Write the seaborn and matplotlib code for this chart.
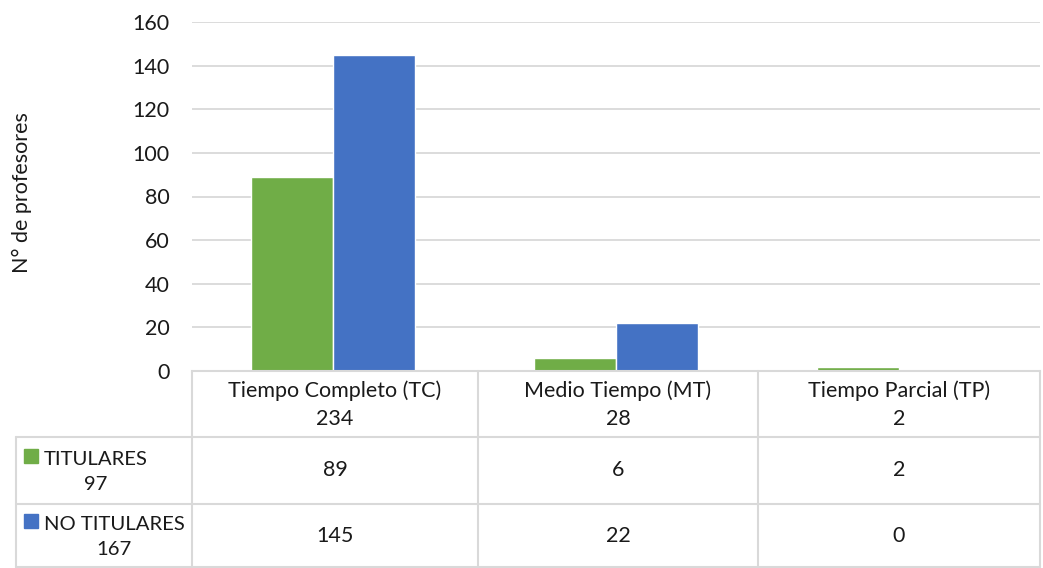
import matplotlib
matplotlib.use("Agg")
import matplotlib.pyplot as plt
import seaborn as sns
import pandas as pd
from matplotlib.lines import Line2D
from matplotlib.patches import Rectangle

categories = ["Tiempo Completo (TC)", "Medio Tiempo (MT)", "Tiempo Parcial (TP)"]
category_totals = [234, 28, 2]
series_names = ["TITULARES", "NO TITULARES"]
series_totals = [97, 167]
titulares = [89, 6, 2]
no_titulares = [145, 22, 0]
y_ticks = [0, 20, 40, 60, 80, 100, 120, 140, 160]
colors = ["#70AD47", "#4472C4"]

sns.set_theme(style="white")
plt.rcParams["font.family"] = ["Lato", "DejaVu Sans"]

W, H = 1043, 568
fig = plt.figure(figsize=(W / 100, H / 100), dpi=100)

def fx(x):
    return x / W

def fy(y):
    return 1 - y / H

left, right, top, bottom = 192, 1040, 22, 371
ax = fig.add_axes([fx(left), fy(bottom), fx(right) - fx(left), fy(top) - fy(bottom)])

df = pd.DataFrame({
    "cat": categories * 2,
    "serie": [series_names[0]] * 3 + [series_names[1]] * 3,
    "val": titulares + no_titulares,
})
sns.barplot(data=df, x="cat", y="val", hue="serie", palette=colors, ax=ax,
            width=0.58, saturation=1, legend=False, errorbar=None)

fs = 15.5
txt_color = "#1a1a1a"

ax.set_ylim(0, 160)
ax.set_xlim(-0.5, 2.5)
ax.set_yticks(y_ticks)
ax.set_yticklabels([str(t) for t in y_ticks], fontsize=fs, color=txt_color)
ax.tick_params(axis="y", length=0, pad=16)
ax.tick_params(axis="x", length=0, labelbottom=False)
ax.set_xlabel("")
ax.set_ylabel("")
ax.yaxis.grid(True, color="#d9d9d9", linewidth=1.3)
ax.set_axisbelow(True)
for s in ["top", "right", "left"]:
    ax.spines[s].set_visible(False)
ax.spines["bottom"].set_color("#d9d9d9")
ax.spines["bottom"].set_linewidth(1.5)

fig.text(fx(22), fy(193), "N° de profesores", rotation=90, ha="center", va="center",
         fontsize=fs, color=txt_color)

# Table
lc = "#d9d9d9"
lw = 1.5
col_edges = [192, 478, 758, 1040]
row_edges = [371, 437, 504, 567]
table_left = 16

def hline(x0, x1, y):
    fig.add_artist(Line2D([fx(x0), fx(x1)], [fy(y), fy(y)], color=lc, lw=lw))

def vline(x, y0, y1):
    fig.add_artist(Line2D([fx(x), fx(x)], [fy(y0), fy(y1)], color=lc, lw=lw))

hline(table_left, col_edges[-1], row_edges[1])
hline(table_left, col_edges[-1], row_edges[2])
hline(table_left, col_edges[-1], row_edges[3])
for x in col_edges:
    vline(x, row_edges[0], row_edges[3])
vline(table_left, row_edges[1], row_edges[3])

for i, (c, t) in enumerate(zip(categories, category_totals)):
    cx = (col_edges[i] + col_edges[i + 1]) / 2
    fig.text(fx(cx), fy((row_edges[0] + row_edges[1]) / 2 + 1), f"{c}\n{t}", ha="center",
             va="center", fontsize=fs, color=txt_color, linespacing=1.5)

series_vals = [titulares, no_titulares]
for r in range(2):
    ymid = (row_edges[r + 1] + row_edges[r + 2]) / 2
    for i in range(3):
        cx = (col_edges[i] + col_edges[i + 1]) / 2
        fig.text(fx(cx), fy(ymid), str(series_vals[r][i]), ha="center", va="center",
                 fontsize=fs, color=txt_color)
    fig.text(fx(44), fy(ymid + 1.5), f"{series_names[r]}\n{series_totals[r]}", ha="left",
             va="center", multialignment="center", fontsize=14.6, color=txt_color,
             linespacing=1.55)
    fig.add_artist(Rectangle((fx(24), fy(ymid - 8)), fx(14), 14 / H, color=colors[r],
                             transform=fig.transFigure))

fig.savefig("out.png", dpi=100)
